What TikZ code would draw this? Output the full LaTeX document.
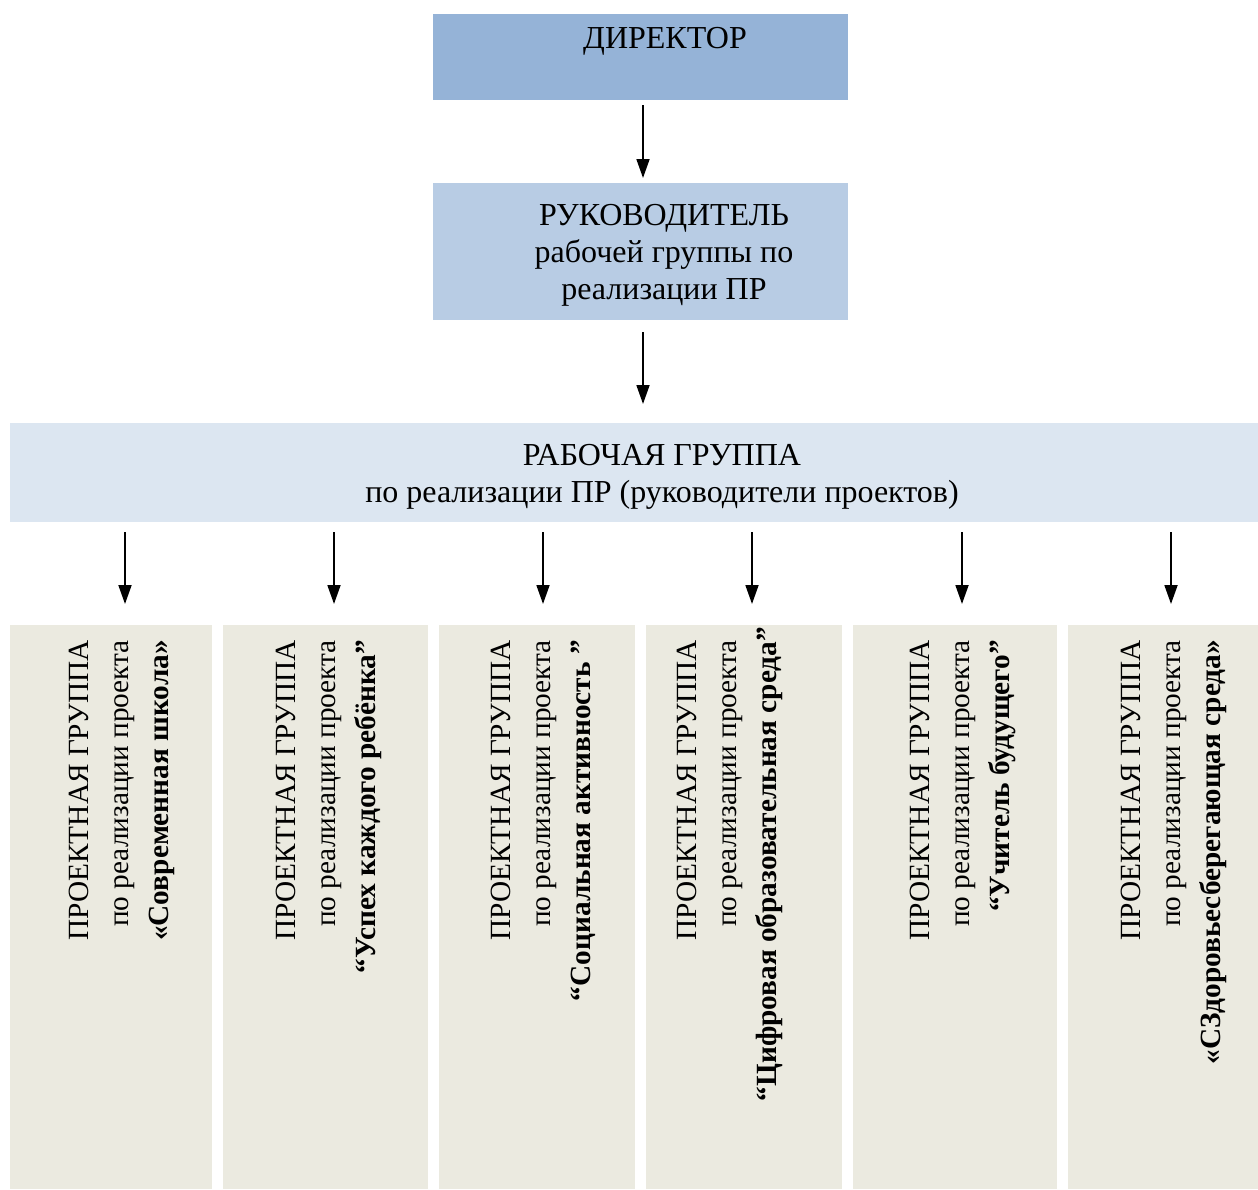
\documentclass[tikz,border=0pt]{standalone}
\usepackage{fontspec}
\setmainfont{Liberation Serif}
\usetikzlibrary{arrows.meta}
\definecolor{dirblue}{HTML}{95B3D7}
\definecolor{rukblue}{HTML}{B8CCE4}
\definecolor{wgblue}{HTML}{DCE6F1}
\definecolor{colbg}{HTML}{EBEAE0}
\begin{document}
\begin{tikzpicture}[x=1pt,y=-1pt,
  box/.style={rectangle,inner sep=0pt,draw=none,anchor=north west},
  txt/.style={inner sep=0pt,font=\fontsize{32}{37}\selectfont,align=center},
  coltxt/.style={inner sep=0pt,font=\fontsize{29.3}{40}\selectfont,align=right,rotate=90,anchor=east},
  arr/.style={line width=1.8pt,-{Triangle[length=19pt,width=13pt]}}]
\useasboundingbox (0,0) rectangle (1258,1189);
% boxes
\node[box,fill=dirblue,minimum width=415pt,minimum height=86pt] (dir) at (433,14) {};
\node[box,fill=rukblue,minimum width=415pt,minimum height=137pt] (ruk) at (433,183) {};
\node[box,fill=wgblue,minimum width=1248pt,minimum height=99pt] (wg) at (10,423) {};
\node[box,fill=colbg,minimum width=202pt,minimum height=564pt] (c1) at (10,625) {};
\node[box,fill=colbg,minimum width=205pt,minimum height=564pt] (c2) at (223,625) {};
\node[box,fill=colbg,minimum width=196pt,minimum height=564pt] (c3) at (439,625) {};
\node[box,fill=colbg,minimum width=196pt,minimum height=564pt] (c4) at (646,625) {};
\node[box,fill=colbg,minimum width=204pt,minimum height=564pt] (c5) at (853,625) {};
\node[box,fill=colbg,minimum width=190pt,minimum height=564pt] (c6) at (1068,625) {};
% texts
\node[txt] (tdir) at (665,41) {ДИРЕКТОР};
\node[txt] (truk) at (664,255.5) {РУКОВОДИТЕЛЬ\\рабочей группы по\\реализации ПР};
\node[txt] (twg) at (662,476.5) {РАБОЧАЯ ГРУППА\\по реализации ПР (руководители проектов)};
\node[coltxt] (t1) at (122,640) {ПРОЕКТНАЯ ГРУППА\\по реализации проекта\\\textbf{«Современная школа»}};
\node[coltxt] (t2) at (329,640) {ПРОЕКТНАЯ ГРУППА\\по реализации проекта\\\textbf{“Успех каждого ребёнка”}};
\node[coltxt] (t3) at (543,640) {ПРОЕКТНАЯ ГРУППА\\по реализации проекта\\\textbf{“Социальная активность ”}};
\node[coltxt] (t4) at (730,640) {ПРОЕКТНАЯ ГРУППА\\по реализации проекта\\\textbf{“Цифровая образовательная среда”}\hspace*{-13pt}};
\node[coltxt] (t5) at (963,640) {ПРОЕКТНАЯ ГРУППА\\по реализации проекта\\\textbf{“Учитель будущего”}};
\node[coltxt] (t6) at (1174,640) {ПРОЕКТНАЯ ГРУППА\\по реализации проекта\\\textbf{«СЗдоровьесберегающая среда»}};
% arrow x positions
\coordinate (a0) at (643,0);
\coordinate (a1) at (125,0);
\coordinate (a2) at (334,0);
\coordinate (a3) at (543,0);
\coordinate (a4) at (752,0);
\coordinate (a5) at (962,0);
\coordinate (a6) at (1171,0);
% connectors
\draw[arr,shorten <=5pt,shorten >=5pt] (dir.south -| a0) -- (ruk.north -| a0);
\draw[arr,shorten <=12pt,shorten >=19pt] (ruk.south -| a0) -- (wg.north -| a0);
\foreach \i in {1,...,6}{
  \draw[arr,shorten <=10pt,shorten >=21pt] (wg.south -| a\i) -- (c\i.north -| a\i);
}
\end{tikzpicture}
\end{document}
